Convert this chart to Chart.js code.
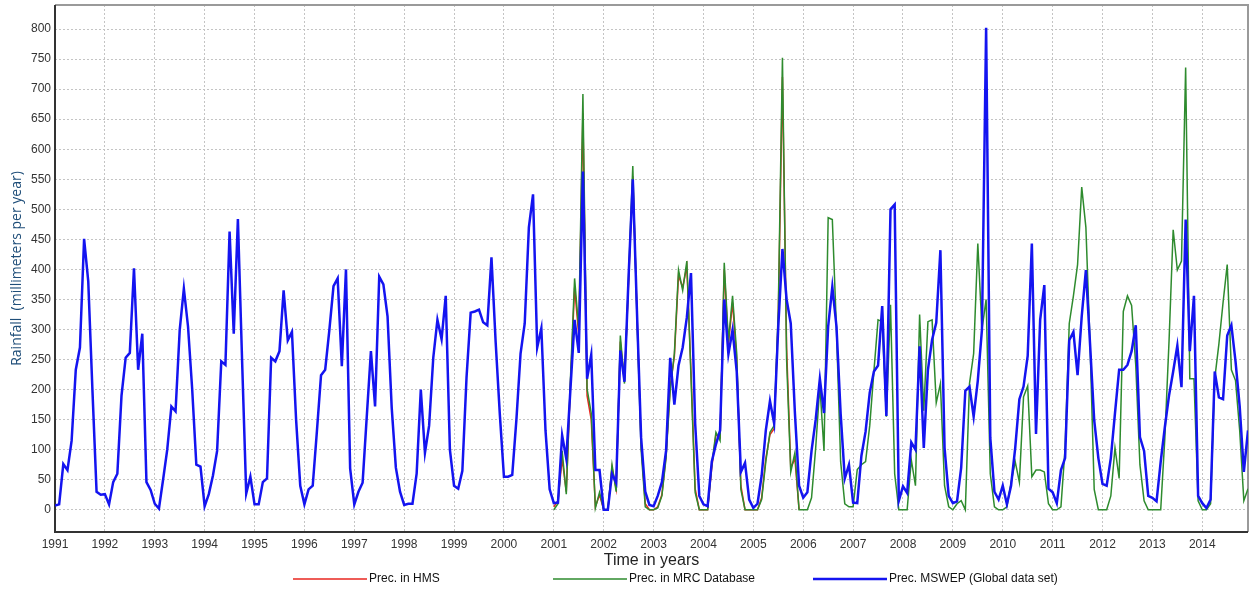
<!DOCTYPE html>
<html>
<head>
<meta charset="utf-8">
<script src="https://cdn.jsdelivr.net/npm/chart.js@4.4.1/dist/chart.umd.min.js"></script>
<style>
  html, body { margin: 0; padding: 0; background: #fff; }
  #wrap { width: 1249px; height: 592px; }
</style>
</head>
<body>
<div id="wrap"><canvas id="cvsRainfall" width="1249" height="592"></canvas></div>
<script>
// x axis labels, one per January
const years = ['1991','1992','1993','1994','1995','1996','1997','1998','1999','2000','2001','2002',
  '2003','2004','2005','2006','2007','2008','2009','2010','2011','2012','2013','2014'];
const yTicks = [0, 50, 100, 150, 200, 250, 300, 350, 400, 450, 500, 550, 600, 650, 700, 750, 800];

// monthly values, Jan 1991 - Dec 2014
const mswep = [
  7, 9, 76, 66, 115, 233, 270, 451, 380, 200, 30, 25,        // 1991
  26, 9, 46, 60, 190, 253, 261, 402, 233, 293, 46, 33,       // 1992
  10, 2, 50, 100, 172, 164, 299, 368, 305, 201, 75, 72,      // 1993
  6, 26, 57, 98, 247, 241, 463, 293, 484, 250, 27, 55,       // 1994
  9, 9, 46, 52, 253, 247, 264, 365, 282, 296, 150, 40,       // 1995
  9, 34, 40, 130, 224, 233, 299, 372, 385, 239, 400, 69,     // 1996
  9, 30, 45, 155, 264, 172, 388, 375, 322, 170, 70, 30,      // 1997
  8, 10, 10, 60, 200, 95, 140, 253, 316, 284, 356, 100,      // 1998
  40, 35, 65, 220, 328, 330, 333, 312, 307, 420, 280, 160,   // 1999
  55, 55, 58, 150, 260, 310, 470, 525, 270, 302, 132, 34,    // 2000
  11, 12, 124, 85, 201, 316, 261, 563, 218, 258, 66, 66,     // 2001
  0, 0, 60, 45, 265, 213, 390, 550, 330, 120, 30, 8,         // 2002
  6, 23, 46, 98, 253, 175, 240, 270, 320, 394, 144, 23,      // 2003
  9, 6, 80, 109, 132, 350, 259, 299, 230, 63, 78, 17,        // 2004
  3, 10, 57, 132, 181, 144, 305, 434, 350, 310, 161, 40,     // 2005
  20, 29, 98, 150, 218, 161, 305, 371, 305, 160, 52, 75,     // 2006
  12, 11, 90, 130, 195, 230, 240, 339, 156, 500, 508, 15,    // 2007
  39, 28, 112, 100, 272, 103, 233, 283, 311, 432, 103, 23,   // 2008
  11, 14, 70, 198, 205, 155, 215, 300, 802, 120, 30, 17,     // 2009
  40, 9, 40, 103, 184, 205, 256, 443, 126, 316, 374, 35,     // 2010
  29, 11, 66, 86, 282, 296, 224, 322, 399, 276, 149, 86,     // 2011
  43, 40, 86, 161, 233, 233, 241, 264, 307, 121, 98, 23,     // 2012
  20, 14, 80, 138, 190, 230, 273, 204, 483, 264, 356, 23,    // 2013
  11, 3, 17, 230, 187, 184, 290, 307, 247, 172, 63, 132      // 2014
];

// MRC database starts Jan 2001
const mrcStart = 120;
const mrc = [
  0, 10, 98, 26, 218, 385, 300, 692, 201, 161, 3, 29,        // 2001
  0, 0, 75, 30, 290, 210, 390, 572, 320, 100, 5, 0,          // 2002
  0, 3, 23, 86, 200, 260, 399, 365, 414, 220, 29, 0,         // 2003
  0, 0, 75, 129, 115, 411, 280, 356, 260, 34, 0, 0,          // 2004
  0, 0, 17, 80, 129, 140, 333, 752, 250, 63, 95, 0,          // 2005
  0, 0, 20, 103, 207, 98, 486, 483, 300, 80, 10, 5,          // 2006
  5, 67, 75, 80, 140, 230, 316, 313, 155, 341, 60, 0,        // 2007
  0, 0, 83, 40, 325, 165, 313, 316, 178, 210, 40, 5,         // 2008
  0, 10, 15, 0, 210, 260, 443, 300, 350, 60, 5, 0,           // 2009
  0, 5, 45, 80, 46, 188, 206, 55, 66, 66, 63, 10,            // 2010
  0, 0, 5, 103, 310, 356, 408, 537, 470, 276, 34, 0,         // 2011
  0, 0, 23, 103, 52, 330, 356, 340, 240, 75, 15, 0,          // 2012
  0, 0, 0, 120, 280, 466, 399, 414, 736, 218, 218, 15,       // 2013
  0, 0, 10, 218, 276, 345, 408, 233, 215, 132, 15, 35        // 2014
];

// HMS, Jan 2001 - Dec 2005
const hmsStart = 120;
const hms = [
  5, 15, 85, 30, 210, 370, 290, 660, 190, 150, 5, 25,        // 2001
  0, 0, 70, 35, 280, 215, 380, 555, 330, 110, 10, 0,         // 2002
  0, 5, 25, 90, 205, 255, 390, 370, 405, 230, 35, 0,         // 2003
  0, 0, 70, 125, 120, 400, 275, 345, 250, 40, 0, 0,          // 2004
  0, 0, 20, 85, 125, 135, 320, 720, 270, 70, 85, 0           // 2005
];

const toPoints = (arr, start) => arr.map((v, i) => ({ x: start + i, y: v }));

// frame, axis titles and the legend under the plot
const decorations = {
  id: 'decorations',
  beforeDatasetsDraw(chart) {
    const { ctx, chartArea: a } = chart;
    ctx.save();
    ctx.strokeStyle = '#9a9a9a';
    ctx.lineWidth = 2;
    ctx.beginPath();
    ctx.moveTo(a.left, a.top);
    ctx.lineTo(a.right, a.top);
    ctx.lineTo(a.right, a.bottom);
    ctx.stroke();
    ctx.strokeStyle = '#333';
    ctx.beginPath();
    ctx.moveTo(a.left, a.top);
    ctx.lineTo(a.left, a.bottom);
    ctx.lineTo(a.right, a.bottom);
    ctx.stroke();
    ctx.restore();
  },
  afterDraw(chart) {
    const { ctx, chartArea: a } = chart;
    ctx.save();
    // y title
    ctx.translate(17, (a.top + a.bottom) / 2);
    ctx.rotate(-Math.PI / 2);
    ctx.fillStyle = '#1f4e79';
    ctx.font = '14px "Open Sans", Lato, sans-serif';
    ctx.textAlign = 'center';
    ctx.textBaseline = 'middle';
    ctx.fillText('Rainfall  (millimeters per year)', 0, 0);
    ctx.restore();

    ctx.save();
    ctx.fillStyle = '#222';
    ctx.font = '16px "Liberation Sans", Arial, sans-serif';
    ctx.textAlign = 'center';
    ctx.textBaseline = 'middle';
    ctx.fillText('Time in years', (a.left + a.right) / 2, 561);

    // legend, HMS first
    const items = chart.data.datasets.slice().reverse();
    ctx.font = '12px "Liberation Sans", Arial, sans-serif';
    ctx.textAlign = 'left';
    items.forEach((ds, i) => {
      const x0 = 293 + i * 260;
      ctx.strokeStyle = ds.borderColor;
      ctx.lineWidth = ds.borderWidth;
      ctx.beginPath();
      ctx.moveTo(x0, 579);
      ctx.lineTo(x0 + 74, 579);
      ctx.stroke();
      ctx.fillStyle = '#111';
      ctx.fillText(ds.label, x0 + 76, 579);
    });
    ctx.restore();
  }
};

const gridStyle = {
  color: '#c4c4c4',
  lineWidth: 1,
  drawTicks: false
};

new Chart(document.getElementById('cvsRainfall'), {
  type: 'line',
  data: {
    datasets: [{
      label: 'Prec. MSWEP (Global data set)',
      data: toPoints(mswep, 0),
      borderColor: '#1414f0',
      borderWidth: 2.5,
      pointRadius: 0,
      tension: 0
    }, {
      label: 'Prec. in MRC Database',
      data: toPoints(mrc, mrcStart),
      borderColor: '#2e8b2e',
      borderWidth: 1.5,
      pointRadius: 0,
      tension: 0
    }, {
      label: 'Prec. in HMS',
      data: toPoints(hms, hmsStart),
      borderColor: '#e8261f',
      borderWidth: 1.5,
      pointRadius: 0,
      tension: 0
    }]
  },
  options: {
    responsive: false,
    animation: false,
    devicePixelRatio: 1,
    layout: { padding: { left: 0, right: 1, top: 5, bottom: 0 } },
    plugins: {
      legend: { display: false },
      tooltip: { enabled: false }
    },
    scales: {
      x: {
        type: 'linear',
        min: 0,
        max: 287,
        border: { display: false, dash: [2, 2] },
        grid: gridStyle,
        afterBuildTicks: (s) => { s.ticks = years.map((y, i) => ({ value: i * 12 })); },
        afterFit: (s) => { s.height = 60; s.paddingLeft = 0; s.paddingRight = 0; },
        ticks: {
          autoSkip: false,
          maxRotation: 0,
          padding: 5,
          color: '#333',
          font: { family: '"Liberation Sans", Arial, sans-serif', size: 12 },
          callback: (v) => years[Math.round(v / 12)]
        }
      },
      y: {
        min: -37,
        max: 840,
        border: { display: false, dash: [2, 2] },
        grid: gridStyle,
        afterBuildTicks: (s) => { s.ticks = yTicks.map(v => ({ value: v })); },
        afterFit: (s) => { s.width = 55; s.paddingTop = 0; s.paddingBottom = 0; },
        ticks: {
          padding: 4,
          color: '#333',
          font: { family: '"Liberation Sans", Arial, sans-serif', size: 12 }
        }
      }
    }
  },
  plugins: [decorations]
});
</script>
</body>
</html>
